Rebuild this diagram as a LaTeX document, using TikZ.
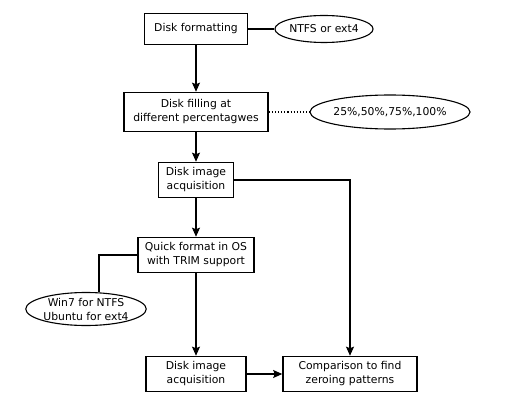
\documentclass[tikz,border=0pt]{standalone}
\usepackage{fontspec}
\setmainfont{DejaVu Sans}
\usetikzlibrary{arrows.meta,positioning,shapes.geometric}

\begin{document}
\begin{tikzpicture}[x=1pt,y=-1pt,>={Stealth[length=9pt,width=8pt,inset=1.5pt]},
 box/.style={draw,line width=1.6pt,align=center,inner sep=0pt,font=\fontsize{10.8}{14}\selectfont,minimum height=35pt},
 oval/.style={draw,ellipse,line width=1.1pt,align=center,inner sep=0pt,font=\fontsize{10.8}{14}\selectfont},
 lin/.style={line width=1.1pt},arr/.style={->,line width=1.1pt}]
\useasboundingbox (0,0) rectangle (513,414);
\node[box,minimum width=103pt,minimum height=31pt] (fmt) at (196,29) {Disk formatting};
\node[oval,minimum width=86pt,minimum height=27pt] (ntfs) at (324,29) {NTFS or ext4};
\node[box,minimum width=144pt,minimum height=39pt] (fill) at (196,112) {Disk filling at\\different percentagwes};
\node[oval,minimum width=145pt,minimum height=34pt] (pct) at (390,112) {25\%,50\%,75\%,100\%};
\node[box,minimum width=75pt] (acq1) at (196,180) {Disk image\\acquisition};
\node[box,minimum width=116pt] (quick) at (196,255) {Quick format in OS\\with TRIM support};
\node[oval,minimum width=110pt,minimum height=33pt] (win) at (86,309) {Win7 for NTFS\\Ubuntu for ext4};
\node[box,minimum width=100pt] (acq2) at (196,374) {Disk image\\acquisition};
\node[box,minimum width=134pt] (cmp) at (350,374) {Comparison to find\\zeroing patterns};
\draw[lin] (fmt)--(ntfs);\draw[lin,dotted] (fill)--(pct);
\draw[arr] (fmt)--(fill);\draw[arr] (fill)--(acq1);\draw[arr] (acq1)--(quick);\draw[arr] (quick)--(acq2);
\draw[arr] (acq2)--(cmp);
\draw[arr] (acq1.east)-|(cmp.north);
\draw[lin] (quick.west)-|([xshift=13pt]win.north);
\end{tikzpicture}
\end{document}
